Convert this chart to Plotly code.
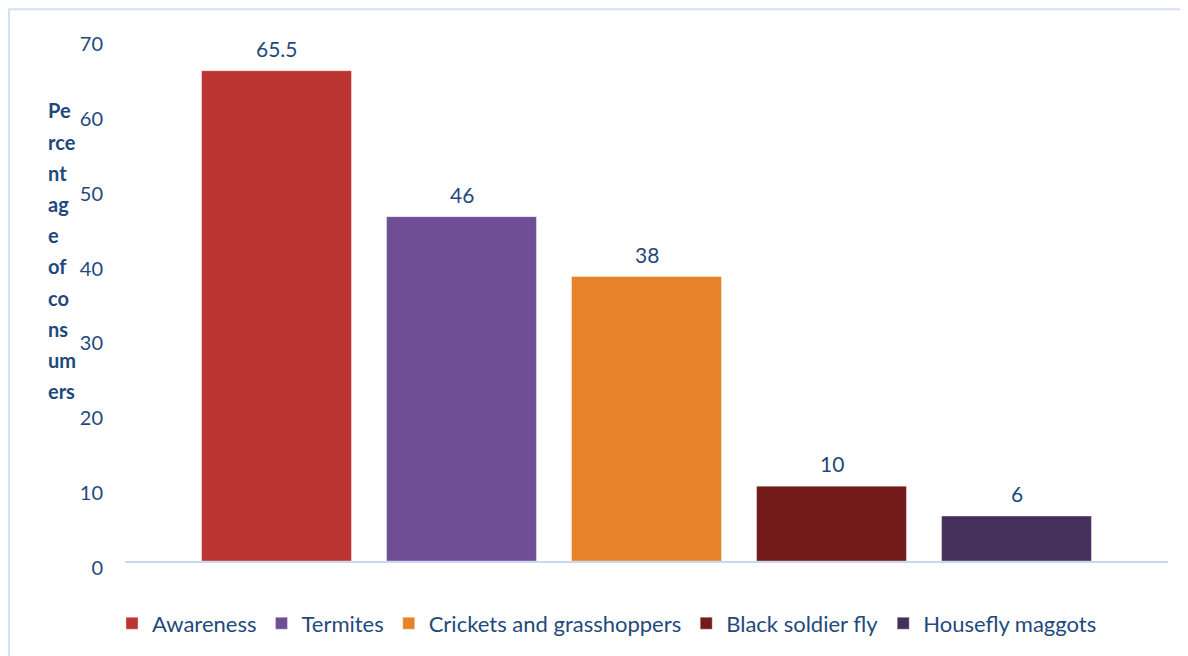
import plotly.graph_objects as go

# ---- data ----
series_names = ["Awareness", "Termites", "Crickets and grasshoppers",
                "Black soldier fly", "Housefly maggots"]
values = [65.5, 46, 38, 10, 6]
colors = ["#BD3532", "#6F4E95", "#E6832A", "#741B1B", "#45305C"]
y_ticks = [0, 10, 20, 30, 40, 50, 60, 70]
y_title_chunks = ["Pe", "rce", "nt", "ag", "e", "of", "co", "ns", "um", "ers"]

TEXT = "#1F497D"
FONT = "Lato"

# page has an 8px body margin, so the figure is drawn 8px in from the window edge
W, H = 1180, 648
ml, mr, mt, mb = 117, 20, 29, 90
ph = H - mt - mb
pw = W - ml - mr

fig = go.Figure()
for name, v, c in zip(series_names, values, colors):
    fig.add_trace(go.Bar(
        x=[name], y=[v], name=name, width=0.81,
        marker=dict(color=c, line=dict(color="rgba(255,255,255,0.35)", width=1)),
        hoverinfo="name+y",
    ))
    fig.add_annotation(x=name, y=v, text=str(v), showarrow=False,
                       yanchor="bottom", yshift=8,
                       font=dict(family=FONT, size=21, color=TEXT))

# stacked y-axis title, one chunk per line
line_y0, line_step = 103, 31.5
for k, chunk in enumerate(y_title_chunks):
    ypix = line_y0 + k * line_step
    fig.add_annotation(xref="paper", yref="paper",
                       x=(38 - ml) / pw, y=(H - mb - ypix) / ph,
                       xanchor="left", yanchor="middle", showarrow=False,
                       text=f"<b>{chunk}</b>",
                       font=dict(family=FONT, size=20, color=TEXT))

# light blue frame (top/left visible)
fig.add_shape(type="rect", xref="paper", yref="paper",
              x0=(1 - ml) / pw, x1=(1200 - ml) / pw,
              y0=(H - mb - 670) / ph, y1=(H - mb - 1) / ph,
              line=dict(color="#D3E0F2", width=2), fillcolor="rgba(0,0,0,0)",
              layer="below")

n = len(series_names)
half = (pw / 185) / 2
fig.update_layout(
    width=W, height=H,
    margin=dict(l=ml, r=mr, t=mt, b=mb),
    paper_bgcolor="white", plot_bgcolor="white",
    barmode="overlay",
    font=dict(family=FONT, color=TEXT, size=20),
    showlegend=True,
    legend=dict(orientation="h", x=(599 - ml) / pw, xanchor="center",
                y=(H - mb - 621) / ph, yanchor="middle",
                font=dict(family=FONT, size=22, color=TEXT),
                itemwidth=30, traceorder="normal"),
    xaxis=dict(type="category", range=[(n - 1) / 2 - half, (n - 1) / 2 + half],
               showticklabels=False, ticks="", showgrid=False,
               showline=True, linecolor="#C9DAF0", linewidth=2, zeroline=False),
    yaxis=dict(range=[0, 70], tickvals=y_ticks, showgrid=False, zeroline=False,
               showline=False, ticks="outside", ticklen=17,
               tickcolor="rgba(0,0,0,0)", ticklabelshift=7,
               tickfont=dict(family=FONT, size=20, color=TEXT)),
)

fig.write_html("out.html")
